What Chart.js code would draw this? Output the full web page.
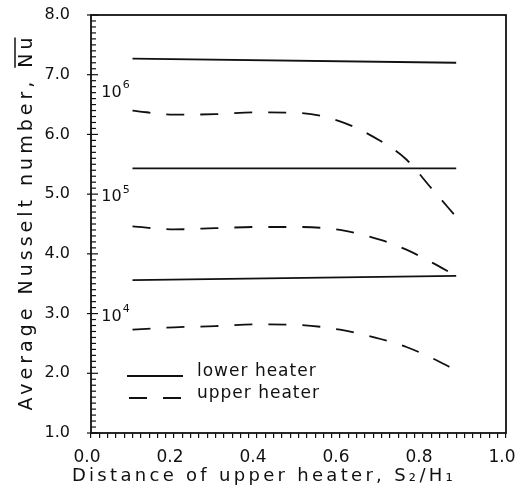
<!DOCTYPE html>
<html>
<head>
<meta charset="utf-8">
<script src="https://cdn.jsdelivr.net/npm/chart.js@4.4.1/dist/chart.umd.min.js"></script>
<style>
  html, body { margin: 0; padding: 0; background: #fff; }
  #wrap { width: 526px; height: 494px; }
</style>
</head>
<body>
<div id="wrap"><canvas id="chart" width="526" height="494"></canvas></div>
<script>
// ===== valores =====
const lowerX = [0.10, 0.88];
const lowerRa6 = [7.27, 7.20];
const lowerRa5 = [5.43, 5.43];
const lowerRa4 = [3.56, 3.63];

const upperX = [0.10, 0.20, 0.30, 0.40, 0.50, 0.60, 0.70, 0.76, 0.82, 0.88];
const upperRa6 = [6.40, 6.33, 6.34, 6.37, 6.36, 6.22, 5.88, 5.58, 5.10, 4.62];
const upperRa5 = [4.46, 4.41, 4.43, 4.45, 4.45, 4.40, 4.23, 4.07, 3.86, 3.63];
const upperRa4 = [2.73, 2.77, 2.79, 2.82, 2.81, 2.73, 2.57, 2.44, 2.26, 2.05];

const raExp = ['6', '5', '4'];
const raLabelX = 0.02;
const raLabelY = [6.70, 4.95, 2.95];

const legendNames = ['lower heater', 'upper heater'];
const xTitle = 'Distance of upper heater, S\u2082/H\u2081';
const yTitle = 'Average Nusselt number, ';
const yTitleBar = 'Nu';

const INK = '#111';
const FONT = '"DejaVu Sans", sans-serif';
const DASH = [18, 16];

const pts = (xs, ys) => xs.map((x, i) => ({ x, y: ys[i] }));

function lowerSet(ys) {
  return { data: pts(lowerX, ys), borderColor: INK, borderWidth: 1.8, pointRadius: 0, tension: 0 };
}
function upperSet(ys) {
  return {
    data: pts(upperX, ys), borderColor: INK, borderWidth: 1.8, pointRadius: 0,
    borderDash: DASH, cubicInterpolationMode: 'monotone'
  };
}

// ═══════════ extras: marco, ticks internos, rótulos ═══════════
const extras = {
  id: 'extras',
  afterDraw(chart) {
    const { ctx, chartArea: a, scales: { x, y } } = chart;
    ctx.save();
    ctx.strokeStyle = INK;
    ctx.fillStyle = INK;

    // marco
    ctx.lineWidth = 1.8;
    ctx.strokeRect(a.left, a.top, a.right - a.left, a.bottom - a.top);

    // ticks menores del eje y (hacia dentro)
    ctx.lineWidth = 1.2;
    y.ticks.forEach((t, i) => {
      const py = y.getPixelForTick(i);
      const major = Math.abs(t.value - Math.round(t.value)) < 1e-6;
      ctx.beginPath();
      ctx.moveTo(a.left - (major ? 4 : 0), py);
      ctx.lineTo(a.left + (major ? 7 : 5), py);
      ctx.stroke();
    });

    // rótulos Ra
    raExp.forEach((e, i) => {
      const px = x.getPixelForValue(raLabelX);
      const py = y.getPixelForValue(raLabelY[i]);
      ctx.font = '16px ' + FONT;
      ctx.textAlign = 'left';
      ctx.textBaseline = 'middle';
      ctx.fillText('10', px + 2, py);
      const w = ctx.measureText('10').width;
      ctx.font = '11px ' + FONT;
      ctx.fillText(e, px + 3 + w, py - 7);
    });

    // leyenda
    const lx0 = a.left + 36, lx1 = a.left + 92;
    const ly = [376, 398];
    ctx.lineWidth = 1.8;
    ctx.beginPath();
    ctx.moveTo(lx0, ly[0]); ctx.lineTo(lx1, ly[0]);
    ctx.stroke();
    ctx.setLineDash(DASH);
    ctx.beginPath();
    ctx.moveTo(lx0 + 2, ly[1]); ctx.lineTo(lx1, ly[1]);
    ctx.stroke();
    ctx.setLineDash([]);
    ctx.font = '17px ' + FONT;
    ctx.letterSpacing = '1px';
    ctx.textAlign = 'left';
    ctx.textBaseline = 'middle';
    ctx.fillText(legendNames[0], lx1 + 14, ly[0] - 4);
    ctx.fillText(legendNames[1], lx1 + 14, ly[1] - 4);

    // título x
    ctx.font = '18px ' + FONT;
    ctx.letterSpacing = '3.3px';
    ctx.textAlign = 'center';
    ctx.fillText(xTitle, 264, 476);

    // título y (rotado) con barra sobre Nu
    ctx.translate(27, (a.top + a.bottom) / 2 - 2);
    ctx.rotate(-Math.PI / 2);
    ctx.font = '19px ' + FONT;
    ctx.letterSpacing = '4px';
    const full = yTitle + yTitleBar;
    const W = ctx.measureText(full).width;
    const wb = ctx.measureText(yTitleBar).width;
    ctx.textAlign = 'left';
    ctx.fillText(full, -W / 2, 0);
    ctx.lineWidth = 1.5;
    ctx.beginPath();
    ctx.moveTo(W / 2 - wb, -12);
    ctx.lineTo(W / 2 - 4, -12);
    ctx.stroke();
    ctx.restore();
  }
};

new Chart(document.getElementById('chart'), {
  type: 'line',
  data: {
    datasets: [
      lowerSet(lowerRa6), lowerSet(lowerRa5), lowerSet(lowerRa4),
      upperSet(upperRa6), upperSet(upperRa5), upperSet(upperRa4)
    ]
  },
  options: {
    responsive: false,
    animation: false,
    layout: { padding: { top: 15, right: 20, left: 0, bottom: 0 } },
    plugins: { legend: { display: false }, tooltip: { enabled: false } },
    scales: {
      x: {
        type: 'linear', min: 0, max: 1,
        afterFit: s => { s.height = 61; s.paddingLeft = 0; s.paddingRight = 0; },
        border: { display: false },
        grid: { drawOnChartArea: false, drawTicks: true, tickLength: 5, color: INK, lineWidth: 1.2 },
        ticks: {
          stepSize: 0.02, autoSkip: false, maxRotation: 0, padding: 9, labelOffset: -4,
          color: INK, font: { family: FONT, size: 17 },
          callback: v => Math.abs(v * 5 - Math.round(v * 5)) < 1e-6 ? v.toFixed(1) : ''
        }
      },
      y: {
        type: 'linear', min: 1, max: 8,
        afterFit: s => { s.width = 91; s.paddingTop = 0; s.paddingBottom = 0; },
        border: { display: false },
        grid: { display: false, drawTicks: false },
        ticks: {
          stepSize: 0.1, autoSkip: false, padding: 21,
          color: INK, font: { family: FONT, size: 16 },
          callback: v => Math.abs(v - Math.round(v)) < 1e-6 ? v.toFixed(1) : ''
        }
      }
    }
  },
  plugins: [extras]
});
</script>
</body>
</html>
